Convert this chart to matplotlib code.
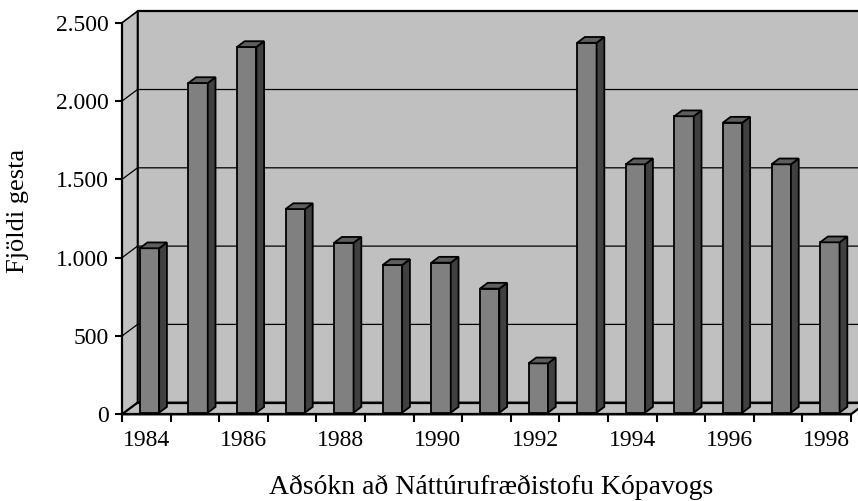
import matplotlib
matplotlib.use("Agg")
import matplotlib.pyplot as plt
from matplotlib.patches import Polygon
from matplotlib.ticker import FuncFormatter

years = list(range(1984, 1999))
visitors = [1050, 2105, 2335, 1300, 1085, 943, 958, 792, 315, 2362, 1586, 1893, 1852, 1586, 1088]
year_labels = [str(y) if y % 2 == 0 else "" for y in years]
y_ticks = [0, 500, 1000, 1500, 2000, 2500]

plt.rcParams["font.family"] = ["Liberation Serif", "DejaVu Serif"]

wall_color = "#c0c0c0"
front_color = "#808080"
side_color = "#404040"
top_color = "#5e5e5e"

# depth of the 3D box in data units
dx = 0.319
dy = 74.0
d0, d1 = 0.14, 0.64
bar_w = 0.40
n = len(years)
ymax = 2500

fig = plt.figure(figsize=(8.58, 5.01), dpi=100)
ax = fig.add_axes([122 / 858, (501 - 414.3) / 501, (851 - 122) / 858, (414.3 - 22.8) / 501])
ax.set_xlim(0, n)
ax.set_ylim(0, ymax)
ax.patch.set_visible(False)

def poly(pts, fc, lw=1.0, z=1):
    p = Polygon(pts, closed=True, facecolor=fc, edgecolor="black", linewidth=lw,
                clip_on=False, zorder=z, joinstyle="miter")
    ax.add_patch(p)

# walls and floor
poly([(0, 0), (dx, dy), (dx, ymax + dy), (0, ymax)], wall_color, 1.2)
poly([(dx, dy), (n + dx, dy), (n + dx, ymax + dy), (dx, ymax + dy)], wall_color, 1.2)
poly([(0, 0), (n, 0), (n + dx, dy), (dx, dy)], wall_color, 1.6)

# gridlines on side wall and back wall
for v in y_ticks[1:-1]:
    ax.plot([0, dx, n + dx], [v, v + dy, v + dy], color="black", lw=0.9,
            clip_on=False, zorder=2)
ax.plot([dx, n + dx], [ymax + dy, ymax + dy], color="black", lw=1.6, clip_on=False, zorder=2)
ax.plot([dx, n + dx], [dy, dy], color="black", lw=1.6, clip_on=False, zorder=2)

# bars
for i, v in enumerate(visitors):
    x0 = i + 0.32 + d0 * dx
    y0 = d0 * dy
    ddx = (d1 - d0) * dx
    ddy = (d1 - d0) * dy
    z = 3
    poly([(x0, y0), (x0 + bar_w, y0), (x0 + bar_w, v + y0), (x0, v + y0)], front_color, 1.3, z)
    poly([(x0 + bar_w, y0), (x0 + bar_w + ddx, y0 + ddy), (x0 + bar_w + ddx, v + y0 + ddy),
          (x0 + bar_w, v + y0)], side_color, 1.3, z)
    poly([(x0, v + y0), (x0 + bar_w, v + y0), (x0 + bar_w + ddx, v + y0 + ddy),
          (x0 + ddx, v + y0 + ddy)], top_color, 1.3, z)

for s in ["top", "right"]:
    ax.spines[s].set_visible(False)
for s in ["left", "bottom"]:
    ax.spines[s].set_linewidth(1.6)
    ax.spines[s].set_zorder(5)

ax.set_yticks(y_ticks)
ax.yaxis.set_major_formatter(FuncFormatter(lambda v, p: f"{int(v):,}".replace(",", ".")))
ax.set_xticks(range(n + 1))
ax.set_xticklabels([""] * (n + 1))
ax.set_xticks([i + 0.5 for i in range(n)], minor=True)
ax.set_xticklabels(year_labels, minor=True)
ax.tick_params(axis="x", which="minor", length=0, pad=11, labelsize=17)
ax.tick_params(axis="x", which="major", length=6, width=1.5, direction="out")
ax.tick_params(axis="y", length=5, width=1.5, labelsize=17, pad=4.5)

ax.set_ylabel("Fjöldi gesta", fontsize=19, va="center", ha="center")
ax.yaxis.set_label_coords(-0.142, 0.519)
ax.set_xlabel("Aðsókn að Náttúrufræðistofu Kópavogs", fontsize=20, va="baseline")
ax.xaxis.set_label_coords(0.507, -(494 - 414.3) / 391.5)

fig.savefig("out.png", dpi=100)
